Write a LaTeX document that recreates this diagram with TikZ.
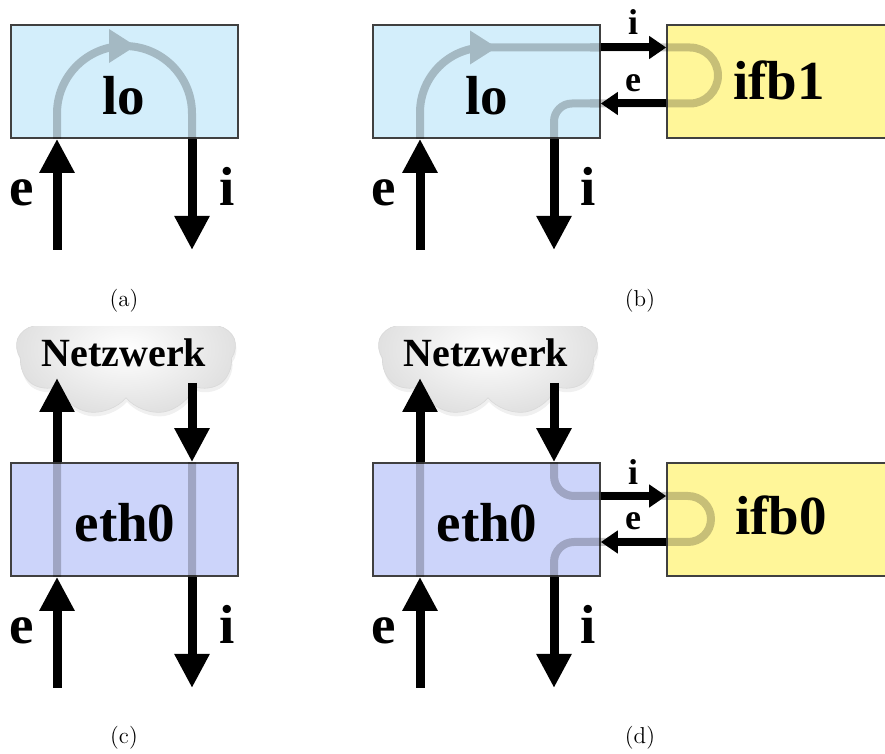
\documentclass[tikz,border=0pt]{standalone}
\usepackage{fontspec}
\newfontfamily\labelfont{Liberation Serif}
\usetikzlibrary{%
	arrows.meta,%
	shapes.symbols,%
	shadows
}

\definecolor{loblue}{RGB}{211,238,251}
\definecolor{ethblue}{RGB}{204,212,250}
\definecolor{ifbyellow}{RGB}{255,246,153}
\definecolor{boxline}{RGB}{64,64,64}

\begin{document}
\begin{tikzpicture}[x=0.5pt,y=-0.5pt,
	box/.style={draw=boxline, line width=0.8pt, minimum width=113.5pt, minimum height=56.5pt, inner sep=0pt},
	bigarrow/.style={line width=4.5pt, -{Triangle[length=17pt,width=16.5pt]}},
	smallarrow/.style={line width=4pt, -{Triangle[length=8.5pt,width=11pt]}},
	flow/.style={line width=4pt, black},
	flowtip/.style={flow, -{Triangle[length=13.5pt,width=16pt]}},
	big/.style={font=\labelfont\bfseries\fontsize{27.5}{30}\selectfont, anchor=base, inner sep=0pt},
	small/.style={font=\labelfont\bfseries\fontsize{18}{20}\selectfont, anchor=base, inner sep=0pt},
	net/.style={font=\labelfont\bfseries\fontsize{20}{22}\selectfont, anchor=base, inner sep=0pt},
	netcloud/.style={cloud, cloud puffs=9, cloud puff arc=120, aspect=2, minimum width=110pt, minimum height=66pt,
		draw=gray!30, line width=0.3pt, inner color=white, outer color=gray!24,
		drop shadow={opacity=0.12, shadow xshift=0.5pt, shadow yshift=-2pt}},
	caption/.style={font=\fontsize{11.5}{13}\selectfont}
]
	\useasboundingbox (0,0) rectangle (885,754);
	
	% (a) loopback alone
	\node[box, fill=loblue] (loA) at (124.5,81.5) {};
	\coordinate (eA) at (57,250);
	\coordinate (iA) at (192,250);
	\draw[bigarrow] (eA) -- (eA |- loA.south);
	\draw[bigarrow] (iA |- loA.south) -- (iA);
	\begin{scope}[transparency group, opacity=0.22]
		\draw[flow, rounded corners=33.75pt] (eA |- loA.south) -- (57,46) -- (192,46) -- (iA |- loA.south);
		\draw[flowtip] (118,46) -- (136,46);
	\end{scope}
	\node[big] (loLabelA) at (124,115) {lo};
	\node[big] (eLabelA) at (22,206) {e};
	\node[big] (iLabelA) at (227,206) {i};
	\node[caption] (capA) at (124,301) {(a)};
	
	% (b) loopback with ifb1
	\node[box, fill=loblue] (loB) at (486.5,81.5) {};
	\node[box, fill=ifbyellow] (ifbB) at (780.5,81.5) {};
	\coordinate (eB) at (420,250);
	\coordinate (iB) at (554,250);
	\coordinate (hiB) at (600,47.5);
	\coordinate (heB) at (600,103.5);
	\draw[bigarrow] (eB) -- (eB |- loB.south);
	\draw[bigarrow] (iB |- loB.south) -- (iB);
	\draw[smallarrow] (loB.east |- hiB) -- (ifbB.west |- hiB);
	\draw[smallarrow] (ifbB.west |- heB) -- (loB.east |- heB);
	\begin{scope}[transparency group, opacity=0.22]
		\draw[flow, rounded corners=32.5pt] (eB |- loB.south) -- (eB |- hiB) -- (hiB);
		\draw[flow, rounded corners=14pt] (590,47.5) -- (718,47.5) -- (718,103.5) -- (590,103.5);
		\draw[flow, rounded corners=9pt] (heB) -- (554,103.5) -- (iB |- loB.south);
		\draw[flowtip] (480,47.5) -- (497,47.5);
	\end{scope}
	\node[big] (loLabelB) at (487,115) {lo};
	\node[big] (ifbLabelB) at (779,100) {ifb1};
	\node[small] (iSmallB) at (633,35) {i};
	\node[small] (eSmallB) at (633,92) {e};
	\node[big] (eLabelB) at (384,206) {e};
	\node[big] (iLabelB) at (588,206) {i};
	\node[caption] (capB) at (640,301) {(b)};
	
	% clouds for (c) and (d)
	\begin{scope}
		\clip (0,327) rectangle (885,754);
		\node[netcloud] (cloudC) at (126,350) {};
		\node[netcloud] (cloudD) at (488,350) {};
	\end{scope}
	
	% (c) eth0 alone
	\node[box, fill=ethblue] (ethC) at (124.5,519.5) {};
	\coordinate (eC) at (57,688);
	\coordinate (iC) at (192,688);
	\coordinate (upC) at (57,378);
	\coordinate (dnC) at (192,383);
	\draw[bigarrow] (eC) -- (eC |- ethC.south);
	\draw[bigarrow] (iC |- ethC.south) -- (iC);
	\draw[bigarrow] (upC |- ethC.north) -- (upC);
	\draw[bigarrow] (dnC) -- (dnC |- ethC.north);
	\begin{scope}[transparency group, opacity=0.22]
		\draw[flow] (upC |- ethC.north) -- (eC |- ethC.south);
		\draw[flow] (dnC |- ethC.north) -- (iC |- ethC.south);
	\end{scope}
	\node[net] (netLabelC) at (124,367) {Netzwerk};
	\node[big] (ethLabelC) at (125,542) {eth0};
	\node[big] (eLabelC) at (22,644) {e};
	\node[big] (iLabelC) at (227,644) {i};
	\node[caption] (capC) at (124,738) {(c)};
	
	% (d) eth0 with ifb0
	\node[box, fill=ethblue] (ethD) at (486.5,519.5) {};
	\node[box, fill=ifbyellow] (ifbD) at (780.5,519.5) {};
	\coordinate (eD) at (420,688);
	\coordinate (iD) at (554,688);
	\coordinate (upD) at (420,378);
	\coordinate (dnD) at (554,383);
	\coordinate (hiD) at (600,496);
	\coordinate (heD) at (600,542);
	\draw[bigarrow] (eD) -- (eD |- ethD.south);
	\draw[bigarrow] (iD |- ethD.south) -- (iD);
	\draw[bigarrow] (upD |- ethD.north) -- (upD);
	\draw[bigarrow] (dnD) -- (dnD |- ethD.north);
	\draw[smallarrow] (ethD.east |- hiD) -- (ifbD.west |- hiD);
	\draw[smallarrow] (ifbD.west |- heD) -- (ethD.east |- heD);
	\begin{scope}[transparency group, opacity=0.22]
		\draw[flow] (upD |- ethD.north) -- (eD |- ethD.south);
		\draw[flow, rounded corners=10pt] (dnD |- ethD.north) -- (554,496) -- (hiD);
		\draw[flow, rounded corners=11.5pt] (590,496) -- (711,496) -- (711,542) -- (590,542);
		\draw[flow, rounded corners=10pt] (heD) -- (554,542) -- (iD |- ethD.south);
	\end{scope}
	\node[net] (netLabelD) at (486,367) {Netzwerk};
	\node[big] (ethLabelD) at (487,542) {eth0};
	\node[big] (ifbLabelD) at (781,535) {ifb0};
	\node[small] (iSmallD) at (633,485) {i};
	\node[small] (eSmallD) at (633,530) {e};
	\node[big] (eLabelD) at (384,644) {e};
	\node[big] (iLabelD) at (588,644) {i};
	\node[caption] (capD) at (640,738) {(d)};
\end{tikzpicture}
\end{document}
